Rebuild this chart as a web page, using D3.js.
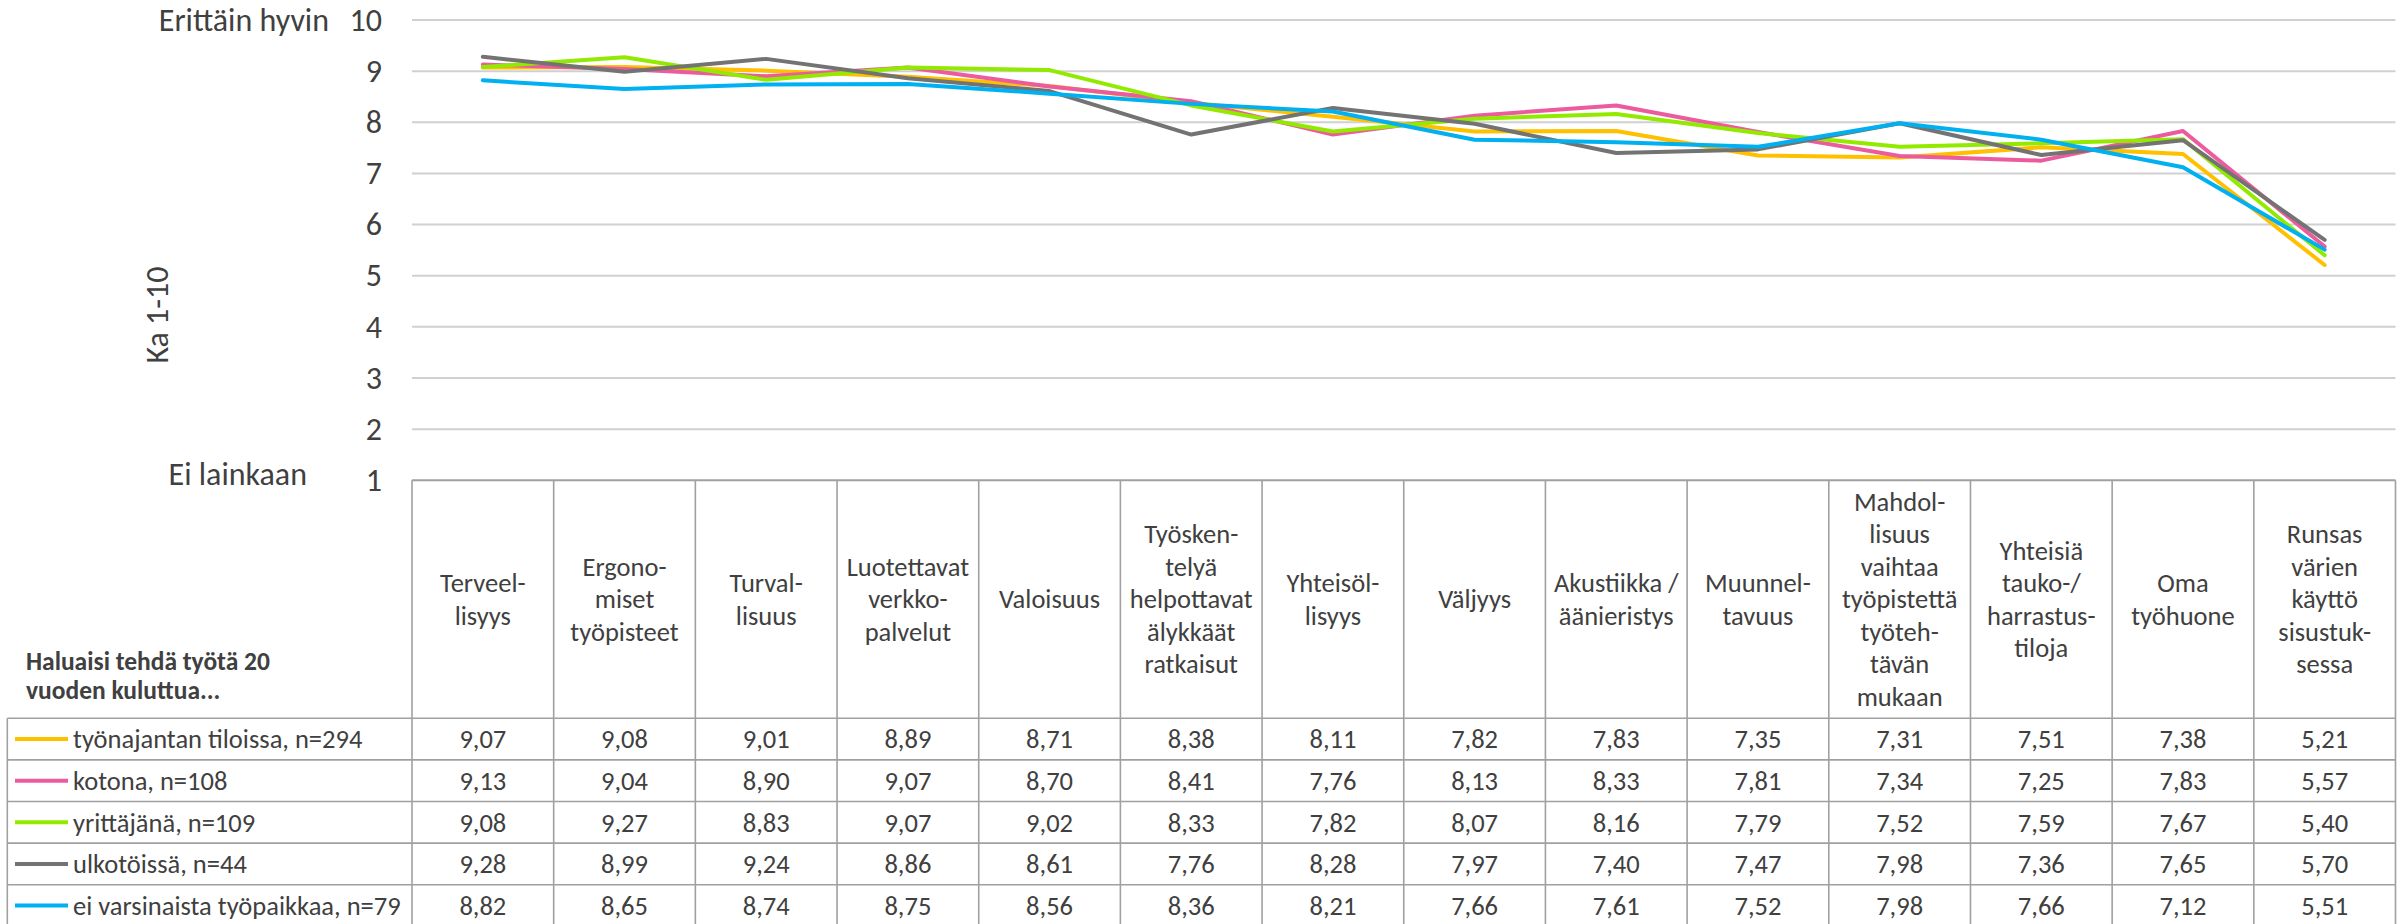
<!DOCTYPE html>
<html>
<head>
<meta charset="utf-8">
<script src="https://cdn.jsdelivr.net/npm/d3@7"></script>
<style>
  html, body { margin: 0; padding: 0; background: #ffffff; }
  svg { display: block; }
  text { font-family: Carlito, Lato, "Open Sans", sans-serif; fill: #404040; }
</style>
</head>
<body>
<svg id="chart" width="2400" height="924"></svg>
<script>
// ---- data ----
const categories = [
  "Terveel-\nlisyys",
  "Ergono-\nmiset\ntyöpisteet",
  "Turval-\nlisuus",
  "Luotettavat\nverkko-\npalvelut",
  "Valoisuus",
  "Työsken-\ntelyä\nhelpottavat\nälykkäät\nratkaisut",
  "Yhteisöl-\nlisyys",
  "Väljyys",
  "Akustiikka /\näänieristys",
  "Muunnel-\ntavuus",
  "Mahdol-\nlisuus\nvaihtaa\ntyöpistettä\ntyöteh-\ntävän\nmukaan",
  "Yhteisiä\ntauko-/\nharrastus-\ntiloja",
  "Oma\ntyöhuone",
  "Runsas\nvärien\nkäyttö\nsisustuk-\nsessa"
];
const seriesNames = [
  "työnajantan tiloissa, n=294",
  "kotona, n=108",
  "yrittäjänä, n=109",
  "ulkotöissä, n=44",
  "ei varsinaista työpaikkaa, n=79"
];
const tyonantajanTiloissa = [9.07, 9.08, 9.01, 8.89, 8.71, 8.38, 8.11, 7.82, 7.83, 7.35, 7.31, 7.51, 7.38, 5.21];
const kotona              = [9.13, 9.04, 8.90, 9.07, 8.70, 8.41, 7.76, 8.13, 8.33, 7.81, 7.34, 7.25, 7.83, 5.57];
const yrittajana          = [9.08, 9.27, 8.83, 9.07, 9.02, 8.33, 7.82, 8.07, 8.16, 7.79, 7.52, 7.59, 7.67, 5.40];
const ulkotoissa          = [9.28, 8.99, 9.24, 8.86, 8.61, 7.76, 8.28, 7.97, 7.40, 7.47, 7.98, 7.36, 7.65, 5.70];
const eiTyopaikkaa        = [8.82, 8.65, 8.74, 8.75, 8.56, 8.36, 8.21, 7.66, 7.61, 7.52, 7.98, 7.66, 7.12, 5.51];
const seriesColors = ["#FFC000", "#EC5B9E", "#92EA00", "#737373", "#00B0F0"];
const yTicks = [1, 2, 3, 4, 5, 6, 7, 8, 9, 10];
const yAxisTitle = "Ka 1-10";
const topLabel = "Erittäin hyvin";
const bottomLabel = "Ei lainkaan";
const tableTitle = ["Haluaisi tehdä työtä 20", "vuoden kuluttua..."];

const seriesValues = [tyonantajanTiloissa, kotona, yrittajana, ulkotoissa, eiTyopaikkaa];

// ---- layout ----
const plotLeft = 412, plotRight = 2395.5, plotTop = 20, plotBottom = 480.3;
const headerBottom = 718.3, rowH = 41.6;
const legendLeft = 7.3;
const tableFont = 26.5;

const svg = d3.select("#chart");
const x = d3.scaleBand().domain(d3.range(categories.length)).range([plotLeft, plotRight]).padding(0);
const bw = x.bandwidth();
const y = d3.scaleLinear().domain([1, 10]).range([plotBottom, plotTop]);

const fmt = d3.formatLocale({decimal: ",", thousands: " ", grouping: [3], currency: ["", "€"]}).format(".2f");

// gridlines
svg.append("g").selectAll("line").data(yTicks.filter(t => t > 1)).join("line")
  .attr("x1", plotLeft).attr("x2", plotRight)
  .attr("y1", d => y(d)).attr("y2", d => y(d))
  .attr("stroke", "#d0d0d0").attr("stroke-width", 2);

// y axis
const yAxis = svg.append("g").attr("transform", `translate(${plotLeft},0)`)
  .call(d3.axisLeft(y).tickValues(yTicks).tickSize(0).tickPadding(30).tickFormat(d3.format("d")));
yAxis.select(".domain").remove();
yAxis.selectAll("text").attr("font-size", 32).style("font-family", "Carlito, Lato, 'Open Sans', sans-serif").attr("fill", "#404040");

svg.append("text").attr("x", 329).attr("y", y(10)).attr("dy", "0.35em").attr("text-anchor", "end")
  .attr("font-size", 32).text(topLabel);
svg.append("text").attr("x", 307).attr("y", y(1) - 7).attr("dy", "0.35em").attr("text-anchor", "end")
  .attr("font-size", 32).text(bottomLabel);
svg.append("text").attr("transform", `translate(157,315) rotate(-90)`).attr("dy", "0.35em")
  .attr("text-anchor", "middle").attr("font-size", 32).text(yAxisTitle);

// table
const tableG = svg.append("g");
const nRows = seriesNames.length;
const tableBottom = headerBottom + nRows * rowH;
const border = "#a0a0a0";
tableG.append("line").attr("x1", plotLeft).attr("x2", plotRight).attr("y1", plotBottom).attr("y2", plotBottom)
  .attr("stroke", border).attr("stroke-width", 2);
tableG.selectAll("line.v").data(d3.range(categories.length + 1)).join("line").attr("class", "v")
  .attr("x1", i => i < categories.length ? x(i) : plotRight)
  .attr("x2", i => i < categories.length ? x(i) : plotRight)
  .attr("y1", plotBottom).attr("y2", tableBottom)
  .attr("stroke", border).attr("stroke-width", 1.6);
tableG.append("line").attr("x1", legendLeft).attr("x2", legendLeft).attr("y1", headerBottom).attr("y2", tableBottom)
  .attr("stroke", border).attr("stroke-width", 1.6);
tableG.selectAll("line.h").data(d3.range(nRows + 1)).join("line").attr("class", "h")
  .attr("x1", legendLeft).attr("x2", plotRight)
  .attr("y1", i => headerBottom + i * rowH).attr("y2", i => headerBottom + i * rowH)
  .attr("stroke", border).attr("stroke-width", 1.6);

// header category labels
const headerMid = (plotBottom + headerBottom) / 2;
const lineH = 32.5;
categories.forEach((c, i) => {
  const lines = c.split("\n");
  const t = tableG.append("text").attr("text-anchor", "middle").attr("font-size", tableFont);
  lines.forEach((ln, j) => {
    t.append("tspan").attr("x", x(i) + bw / 2)
      .attr("y", headerMid + (j - (lines.length - 1) / 2) * lineH + 9).text(ln);
  });
});

// table title
const tt = tableG.append("text").attr("font-size", 25.5).attr("font-weight", "bold");
tableTitle.forEach((ln, j) => tt.append("tspan").attr("x", 26).attr("y", 670 + j * 29).text(ln));

// rows
seriesNames.forEach((name, r) => {
  const cy = headerBottom + r * rowH + rowH / 2;
  tableG.append("line").attr("x1", 15).attr("x2", 68).attr("y1", cy).attr("y2", cy)
    .attr("stroke", seriesColors[r]).attr("stroke-width", 4);
  tableG.append("text").attr("x", 73).attr("y", cy).attr("dy", "0.35em").attr("font-size", tableFont).text(name);
  seriesValues[r].forEach((v, i) => {
    tableG.append("text").attr("x", x(i) + bw / 2).attr("y", cy).attr("dy", "0.35em")
      .attr("text-anchor", "middle").attr("font-size", tableFont).text(fmt(v));
  });
});

// lines
const line = d3.line().x((d, i) => x(i) + bw / 2).y(d => y(d));
svg.append("g").selectAll("path").data(seriesValues).join("path")
  .attr("d", line).attr("fill", "none")
  .attr("stroke", (d, i) => seriesColors[i]).attr("stroke-width", 4)
  .attr("stroke-linejoin", "round").attr("stroke-linecap", "round");
</script>
</body>
</html>
